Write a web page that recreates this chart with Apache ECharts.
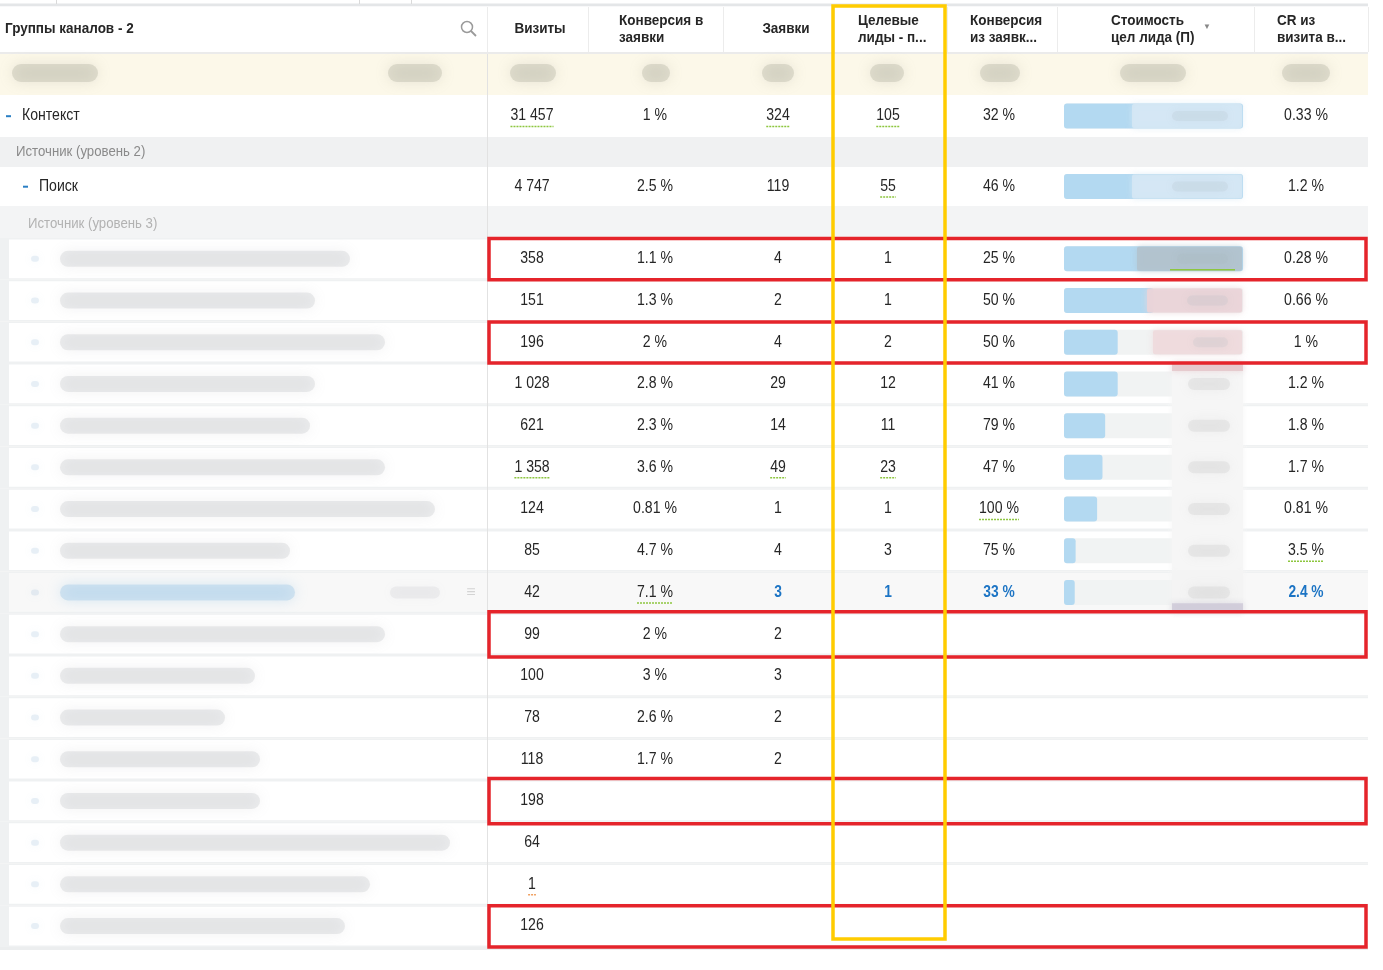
<!DOCTYPE html>
<html><head><meta charset="utf-8">
<script src="https://cdn.jsdelivr.net/npm/echarts@6/dist/echarts.min.js"></script>
<style>html,body{margin:0;padding:0;background:#fff}#c{width:1383px;height:970px}</style>
</head><body><div id="c"></div>
<script>
// ---------------- DATA ----------------
const columnTitles = ['Группы каналов - 2', 'Визиты', 'Конверсия в\nзаявки', 'Заявки', 'Целевые\nлиды - п...', 'Конверсия\nиз заявк...', 'Стоимость\nцел лида (П)', 'CR из\nвизита в...'];
const groupTitles = ['Источник (уровень 2)', 'Источник (уровень 3)'];
const rowNames = ['Контекст', 'Поиск', null, null, null, null, null, null, null, null, null, null, null, null, null, null, null, null, null];
const visits = [31457, 4747, 358, 151, 196, 1028, 621, 1358, 124, 85, 42, 99, 100, 78, 118, 198, 64, 1, 126];
const convToOrders = [1, 2.5, 1.1, 1.3, 2, 2.8, 2.3, 3.6, 0.81, 4.7, 7.1, 2, 3, 2.6, 1.7, null, null, null, null];
const orders = [324, 119, 4, 2, 4, 29, 14, 49, 1, 4, 3, 2, 3, 2, 2, null, null, null, null];
const targetLeads = [105, 55, 1, 1, 2, 12, 11, 23, 1, 3, 1, null, null, null, null, null, null, null, null];
const convFromOrders = [32, 46, 25, 50, 50, 41, 79, 47, 100, 75, 33, null, null, null, null, null, null, null, null];
const leadCostShare = [100, 100, 100, 50, 30, 30, 23, 21.5, 18.5, 6.5, 6, null, null, null, null, null, null, null, null];
const crFromVisit = [0.33, 1.2, 0.28, 0.66, 1, 1.2, 1.8, 1.7, 0.81, 3.5, 2.4, null, null, null, null, null, null, null, null];
// underlined (linked) cells: [row, column, colour key]
const linkedCells = [[0,1,'g'],[0,3,'g'],[0,4,'g'],[1,4,'g'],[7,1,'g'],[7,3,'g'],[7,4,'g'],[8,5,'g'],[9,7,'g'],[10,2,'g'],[17,1,'o']];
const selectedRow = 10;
const redBoxRows = [2, 4, 11, 15, 18];
const yellowColumn = 4;

// ---------------- LAYOUT / STYLE ----------------
const FONT = '"Liberation Sans",Arial,sans-serif';
const F15 = '16px ' + FONT;
const FB15 = 'bold 16px ' + FONT;
const FH = 'bold 15px ' + FONT;
const SX = 0.88, SXB = 0.86, SXH = 0.9;
const TXT = '#262626';
const colBounds = [0, 487, 588, 723, 834, 947, 1057, 1254, 1368];
const valueX = [null, 532, 655, 778, 888, 999, null, 1306];
const headerX = [5, 540, 619, 786, 858, 970, 1111, 1277];
const headerAlign = ['left', 'center', 'left', 'center', 'left', 'left', 'left', 'left'];
const DATA_TOP = 238, ROW_H = 41.7;
function rowBox(i) {
  if (i === 0) return [95, 137];
  if (i === 1) return [167, 206];
  return [DATA_TOP + (i - 2) * ROW_H, DATA_TOP + (i - 1) * ROW_H];
}
// redacted (blurred) areas in the screenshot
const summaryBlur = [[12,98],[388,442],[510,556],[642,670],[762,794],[870,904],[980,1020],[1120,1186],[1282,1330]];
const labelBlurEnd = [350,315,385,315,310,385,435,290,295,385,255,225,260,260,450,370,345];
const costMaskStart = [1132,1132,1137,1147,1153,1172,1172,1172,1172,1172,1172];
const costMaskColor = ['rgba(214,232,244,0.85)','rgba(214,232,244,0.85)','rgba(178,194,205,0.85)','rgba(234,212,216,0.9)','rgba(238,218,221,0.9)','#f6f6f6','#f6f6f6','#f6f6f6','#f6f6f6','#f6f6f6','#f4f4f4'];

const mctx = document.createElement('canvas').getContext('2d');
function tw(s, font) { mctx.font = font; return mctx.measureText(s).width; }
function fmtInt(n) { return String(n).replace(/\B(?=(\d{3})+(?!\d))/g, ' '); }
function fmtPct(p) { return p + ' %'; }
const columns = [null, visits.map(v => v == null ? null : fmtInt(v)), convToOrders.map(v => v == null ? null : fmtPct(v)),
  orders.map(v => v == null ? null : String(v)), targetLeads.map(v => v == null ? null : String(v)),
  convFromOrders.map(v => v == null ? null : fmtPct(v)), null, crFromVisit.map(v => v == null ? null : fmtPct(v))];

function mk(api) {
  const P = (x, y) => api.coord([x, y]);
  return {
    P,
    rect(x0, y0, x1, y1, style, r) {
      const a = P(x0, y0), b = P(x1, y1);
      return { type: 'rect', shape: { x: a[0], y: a[1], width: b[0] - a[0], height: b[1] - a[1], r: r || 0 }, style };
    },
    line(x0, y0, x1, y1, style) {
      const a = P(x0, y0), b = P(x1, y1);
      return { type: 'line', shape: { x1: a[0], y1: a[1], x2: b[0], y2: b[1] }, style };
    },
    text(x, y, text, font, fill, align, sx) {
      const a = P(x, y);
      return { type: 'text', x: a[0], y: a[1], scaleX: sx || 1,
        style: { x: 0, y: 0, text, font, fill, align: align || 'center', verticalAlign: 'middle', lineHeight: 17 } };
    },
    blob(x0, x1, y, h, fill, shadow, blur) {
      const a = P(x0, y - h / 2), b = P(x1, y + h / 2);
      return { type: 'rect', shape: { x: a[0], y: a[1], width: b[0] - a[0], height: b[1] - a[1], r: h / 2 },
        style: { fill, shadowBlur: blur || 12, shadowColor: shadow } };
    }
  };
}

function renderHeader(params, api) {
  const g = mk(api), ch = [];
  ch.push(g.rect(0, 3.5, 1368, 6.5, { fill: '#e4e6e8' }));
  [56, 359, 411].forEach(x => ch.push(g.rect(x, 0, x + 1, 4, { fill: '#dadada' })));
  ch.push(g.rect(0, 6.5, 1368, 52, { fill: '#fff' }));
  for (let c = 1; c < colBounds.length; c++) ch.push(g.rect(colBounds[c], 7, colBounds[c] + 1, 52, { fill: '#ececec' }));
  columnTitles.forEach((t, c) => ch.push(g.text(headerX[c], 29, t, FH, '#262626', headerAlign[c], SXH)));
  const sc = g.P(467, 27);
  ch.push({ type: 'circle', shape: { cx: sc[0], cy: sc[1], r: 5.5 }, style: { fill: 'none', stroke: '#9a9a9a', lineWidth: 1.5 } });
  ch.push(g.line(471, 31, 476, 36, { stroke: '#9a9a9a', lineWidth: 1.8 }));
  ch.push(g.text(1207, 27, '\u25BC', '8px sans-serif', '#888'));
  ch.push(g.rect(0, 52, 1368, 54, { fill: '#ebebeb' }));
  // summary row (redacted)
  ch.push(g.rect(0, 54, 1368, 95, { fill: '#fcf8e9' }));
  summaryBlur.forEach(b => ch.push(g.blob(b[0], b[1], 73, 18, 'rgba(165,165,150,0.3)', 'rgba(150,150,135,0.7)', 14)));
  ch.push(g.rect(0, 95, 1368, 96, { fill: '#e2e2e2' }));
  ch.push(g.rect(0, 137, 1368, 167, { fill: '#f0f1f2' }));
  ch.push(g.text(16, 152, groupTitles[0], '15px ' + FONT, '#8a8a8a', 'left', SX));
  ch.push(g.rect(0, 206, 1368, 238, { fill: '#f3f4f5' }));
  ch.push(g.text(28, 224, groupTitles[1], '15px ' + FONT, '#b2b2b2', 'left', SX));
  ch.push(g.rect(0, 947, 1368, 950, { fill: '#eceeef' }));
  return { type: 'group', children: ch };
}

function renderRow(params, api) {
  const i = api.value(0), g = mk(api), ch = [];
  const [top, bot] = rowBox(i), cy = (top + bot) / 2;
  if (i < 2) {
    ch.push(g.rect(0, top, 1368, bot, { fill: '#fff' }));
    const dx = i === 0 ? 6 : 23;
    ch.push(g.rect(dx, cy - 0.8, dx + 5, cy + 1.2, { fill: '#2a7fc4' }));
    ch.push(g.text(dx + 16, cy, rowNames[i], F15, TXT, 'left', SX));
  } else {
    ch.push(g.rect(0, top, 1368, bot, { fill: '#eff1f2' }));
    const sel = i === selectedRow;
    ch.push(g.rect(9, top + 1.5, 1368, bot - 1.5, { fill: sel ? '#f8f8f8' : '#fff' }));
    const k = i - 2;
    ch.push(g.blob(31, 39, cy, 6, 'rgba(150,185,215,0.2)', 'rgba(150,185,215,0.5)', 8));
    if (sel) ch.push(g.blob(60, labelBlurEnd[k], cy, 16, 'rgba(150,195,230,0.35)', 'rgba(130,185,228,0.8)', 14));
    else ch.push(g.blob(60, labelBlurEnd[k], cy, 16, 'rgba(160,165,170,0.2)', 'rgba(145,150,155,0.6)', 14));
    if (sel) {
      ch.push(g.blob(390, 440, cy, 12, 'rgba(160,160,165,0.12)', 'rgba(150,155,160,0.4)', 12));
      ch.push(g.text(471, cy, '\u2261', '16px sans-serif', '#d4d4d4'));
    }
  }
  for (let c = 1; c < columns.length; c++) {
    if (!columns[c]) continue;
    const s = columns[c][i];
    if (s == null) continue;
    const bold = i === selectedRow && c >= 3;
    const font = bold ? FB15 : F15;
    const sx = bold ? SXB : SX;
    ch.push(g.text(valueX[c], cy, s, font, bold ? '#1c74c4' : TXT, 'center', sx));
    const lk = linkedCells.find(l => l[0] === i && l[1] === c);
    if (lk) {
      const w = tw(s, font) * sx;
      ch.push(g.line(valueX[c] - w / 2, cy + 10.5, valueX[c] + w / 2, cy + 10.5,
        { stroke: lk[2] === 'g' ? '#8dc63f' : '#f0a060', lineWidth: 1.5, lineDash: [2, 1] }));
    }
  }
  return { type: 'group', children: ch };
}

function renderCost(params, api) {
  const i = api.value(0), v = api.value(1), g = mk(api), ch = [];
  const [top, bot] = rowBox(i), cy = (top + bot) / 2;
  ch.push(g.rect(0, cy - 12.5, 100, cy + 12.5, { fill: '#f1f3f3' }, 3));
  ch.push(g.rect(0, cy - 12.5, v, cy + 12.5, { fill: '#b3d9f1' }, 3));
  return { type: 'group', children: ch };
}

function renderMask(params, api) {
  const i = api.value(0), g = mk(api), ch = [];
  const [top, bot] = rowBox(i), cy = (top + bot) / 2;
  const x0 = costMaskStart[i], col = costMaskColor[i];
  if (i >= 5) {
    ch.push(g.rect(x0, top - 1, 1243, bot + 1, { fill: col, shadowBlur: 6, shadowColor: col }));
    ch.push(g.blob(1188, 1230, cy, 12, 'rgba(185,185,185,0.2)', 'rgba(170,170,170,0.6)', 12));
    if (i === 5) ch.push(g.rect(x0, top, 1243, top + 8, { fill: 'rgba(228,196,200,0.8)', shadowBlur: 6, shadowColor: 'rgba(228,196,200,0.8)' }));
    if (i === 10) ch.push(g.rect(x0, bot - 10, 1243, bot - 2, { fill: 'rgba(205,200,215,0.8)', shadowBlur: 6, shadowColor: 'rgba(205,200,215,0.8)' }));
  } else {
    ch.push(g.rect(x0, cy - 12, 1242, cy + 12, { fill: col, shadowBlur: 6, shadowColor: col }, 2));
    ch.push(g.blob(x0 + 40, 1228, cy, 10, 'rgba(165,180,190,0.15)', 'rgba(150,165,175,0.55)', 10));
    if (i === 2) ch.push(g.line(1170, cy + 11, 1235, cy + 11, { stroke: '#8dc63f', lineWidth: 1.5 }));
  }
  return { type: 'group', children: ch };
}

function renderMarks(params, api) {
  const g = mk(api), ch = [];
  ch.push(g.rect(487, 54, 488, 947, { fill: '#e2e2e2' }));
  redBoxRows.forEach(r => {
    const [top, bot] = rowBox(r);
    const pad = (r === 11 || r === 15) ? 2.5 : 0.5;
    ch.push(g.rect(489, top - pad + 1, 1366, bot + pad - 0.5, { fill: 'none', stroke: '#e5242b', lineWidth: 3.5 }));
  });
  ch.push(g.rect(colBounds[yellowColumn] - 1, 6, colBounds[yellowColumn + 1] - 2, 939, { fill: 'none', stroke: '#ffcc00', lineWidth: 3.5 }));
  return { type: 'group', children: ch };
}

const chart = echarts.init(document.getElementById('c'));
const rowIdx = visits.map((_, i) => [i]);
const costData = leadCostShare.map((v, i) => [i, v]).filter(d => d[1] != null);
chart.setOption({
  animation: false,
  grid: [{ left: 0, top: 0, width: 1383, height: 970 }, { left: 1064, top: 0, width: 179, height: 970 }],
  xAxis: [{ type: 'value', min: 0, max: 1383, show: false, gridIndex: 0 }, { type: 'value', min: 0, max: 100, show: false, gridIndex: 1 }],
  yAxis: [{ type: 'value', min: 0, max: 970, inverse: true, show: false, gridIndex: 0 }, { type: 'value', min: 0, max: 970, inverse: true, show: false, gridIndex: 1 }],
  series: [
    { type: 'custom', silent: true, xAxisIndex: 0, yAxisIndex: 0, data: [[0]], renderItem: renderHeader, z: 1 },
    { type: 'custom', silent: true, xAxisIndex: 0, yAxisIndex: 0, data: rowIdx, renderItem: renderRow, z: 2 },
    { type: 'custom', silent: true, xAxisIndex: 1, yAxisIndex: 1, data: costData, renderItem: renderCost, z: 3 },
    { type: 'custom', silent: true, xAxisIndex: 0, yAxisIndex: 0, data: costMaskStart.map((_, i) => [i]), renderItem: renderMask, z: 4 },
    { type: 'custom', silent: true, xAxisIndex: 0, yAxisIndex: 0, data: [[0]], renderItem: renderMarks, z: 5 }
  ]
});
</script></body></html>
